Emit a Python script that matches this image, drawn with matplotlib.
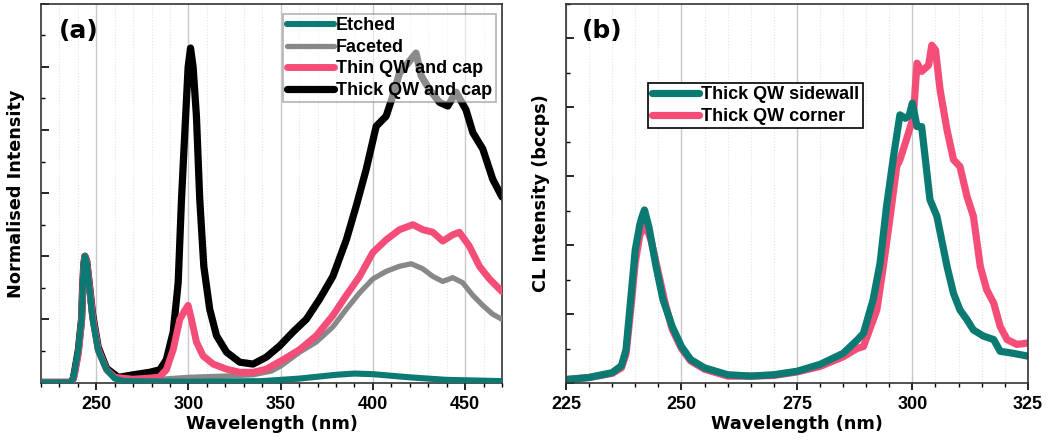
import matplotlib
matplotlib.use("Agg")
import matplotlib.pyplot as plt
from matplotlib.ticker import MultipleLocator, NullFormatter

TEAL = "#0b7a72"
PINK = "#f44d78"
GREY = "#888888"

# ---- panel (a): normalised spectra --------------------------------------
etched_wl = [220, 236, 237.5, 238.4, 240.2, 242, 242.6, 243.2, 243.8, 244.8, 246.2, 248, 251,
             255.6, 260, 265, 300, 340, 360, 380, 390, 400, 420, 440, 470]
etched_i = [0.0, 0.0, 0.03, 0.1, 0.25, 0.5, 0.75, 0.93, 1.0, 0.95, 0.75, 0.5, 0.25,
            0.1, 0.03, 0.01, 0.005, 0.01, 0.03, 0.06, 0.07, 0.065, 0.04, 0.02, 0.01]

faceted_wl = [220, 236, 237.5, 238.4, 240.2, 242, 242.6, 243.2, 243.8, 244.8, 246.2, 248, 251,
              255.6, 260, 280, 300, 320, 335, 345, 350, 360.3, 369.3, 378.3, 385.6, 392.8,
              400, 407.2, 414.4, 420.8, 427.1, 432.5, 437.9, 443.3, 448.7, 454.2, 459.6,
              465, 470]
faceted_i = [0.0, 0.0, 0.03, 0.1, 0.25, 0.5, 0.75, 0.93, 1.0, 0.95, 0.75, 0.5, 0.25,
             0.1, 0.03, 0.02, 0.04, 0.05, 0.06, 0.09, 0.13, 0.24, 0.32, 0.44, 0.58, 0.71,
             0.82, 0.88, 0.92, 0.94, 0.9, 0.84, 0.80, 0.83, 0.79, 0.69, 0.61,
             0.54, 0.50]

thin_wl = [220, 236.5, 238, 240.2, 242, 242.6, 243.2, 243.8, 244.8, 246.2, 248, 251, 255.6,
           260, 270, 284, 288, 291.7, 295.3, 298, 299.8, 301.6, 304.3, 307.9, 313.4, 320.6,
           327.8, 335, 342.2, 351.3, 360.3, 369.3, 378.3, 385.6, 392.8, 400, 407.2, 414.4,
           421.7, 427.1, 432.5, 437.9, 443.3, 446.9, 452.3, 457.8, 463.2, 470]
thin_i = [0.0, 0.0, 0.05, 0.22, 0.48, 0.73, 0.92, 1.0, 0.96, 0.77, 0.52, 0.26, 0.1,
          0.04, 0.025, 0.04, 0.1, 0.26, 0.5, 0.57, 0.61, 0.5, 0.32, 0.21, 0.145, 0.105,
          0.08, 0.08, 0.105, 0.18, 0.26, 0.37, 0.53, 0.69, 0.84, 1.03, 1.13, 1.21,
          1.25, 1.21, 1.19, 1.12, 1.17, 1.19, 1.08, 0.92, 0.82, 0.72]

thick_wl = [220, 236, 237.5, 238.4, 240.2, 242, 242.6, 243.2, 243.8, 244.8, 246.2, 248, 251,
            255.6, 262, 270, 279, 284.5, 288, 291.7, 294.4, 296.2, 298, 299.8, 301.1,
            302.5, 304.3, 306.1, 308.3, 311.5, 315.2, 320.6, 327.8, 335, 342.2, 349.5,
            356.7, 363.9, 371.1, 378.3, 385.6, 391, 396.4, 401.8, 407.2, 410.8, 414.4,
            419, 423.4, 426.2, 430.7, 436.1, 440.6, 445.1, 450.5, 454.2, 459.6, 465, 470]
thick_i = [0.0, 0.0, 0.03, 0.1, 0.25, 0.5, 0.75, 0.93, 1.0, 0.96, 0.78, 0.54, 0.28,
           0.11, 0.04, 0.06, 0.08, 0.1, 0.18, 0.40, 0.79, 1.45, 1.98, 2.5, 2.65,
           2.5, 2.11, 1.45, 0.92, 0.58, 0.37, 0.24, 0.16, 0.145, 0.2, 0.29,
           0.40, 0.5, 0.66, 0.84, 1.13, 1.40, 1.69, 2.03, 2.11, 2.27, 2.45,
           2.53, 2.61, 2.43, 2.32, 2.22, 2.19, 2.30, 2.16, 1.98, 1.85, 1.61, 1.47]

# ---- panel (b): CL spectra (arbitrary units) ----------------------------
side_wl = [225, 230, 235, 237, 238, 239, 240, 241, 241.5, 242, 243, 244.5, 246, 248, 250, 252,
           255, 260, 265, 270, 275, 280, 285, 288, 289.4, 291.5, 293, 294.4, 295.9,
           297.3, 298.5, 299.3, 300, 301, 302, 303.8, 305.3, 307.5, 308.9, 310.3,
           311.8, 313.2, 315.4, 317.6, 319, 321.9, 325]
side_i = [0.05, 0.08, 0.15, 0.25, 0.48, 1.2, 1.93, 2.3, 2.42, 2.51, 2.25, 1.69, 1.21, 0.82, 0.53,
          0.34, 0.22, 0.12, 0.1, 0.12, 0.17, 0.27, 0.43, 0.62, 0.72, 1.21, 1.74, 2.56, 3.28,
          3.89, 3.84, 3.88, 4.06, 3.72, 3.72, 2.66, 2.42, 1.69, 1.30, 1.06,
          0.92, 0.77, 0.68, 0.63, 0.46, 0.43, 0.39]

corner_wl = [225, 230, 235, 237, 238, 239, 240, 241, 242, 242.5, 243.5, 245, 246.5, 248, 250,
             252, 255, 260, 265, 270, 275, 280, 285, 288, 289.4, 292.3, 293.7, 295.2,
             296.6, 297.3, 298.7, 300.2, 301, 302, 303.5, 304.2, 305, 306, 307.5,
             308.9, 310.3, 311.8, 313.2, 314.7, 316.1, 317.6, 319, 320.5, 322.6, 325]
corner_i = [0.05, 0.08, 0.14, 0.22, 0.42, 1.05, 1.75, 2.15, 2.27, 2.25, 2.05, 1.6, 1.15, 0.78, 0.5,
            0.32, 0.2, 0.1, 0.1, 0.11, 0.16, 0.24, 0.38, 0.5, 0.53, 1.06, 1.69, 2.42,
            3.14, 3.24, 3.53, 3.86, 4.64, 4.52, 4.61, 4.9, 4.83, 4.25, 3.67,
            3.24, 3.14, 2.71, 2.42, 1.69, 1.35, 1.16, 0.82, 0.63, 0.56, 0.58]

label_font = {"family": "DejaVu Sans", "weight": "bold", "size": 12.7}
tick_family = "Liberation Sans"
legend_prop = {"family": tick_family, "weight": "bold", "size": 13}

fig = plt.figure(figsize=(10.51, 4.45), dpi=100)
ax_a = fig.add_axes([0.039, 0.1393, 0.4386, 0.852])
ax_b = fig.add_axes([0.5385, 0.1393, 0.4395, 0.852])


def style_axes(ax, major, minor, ymajor):
    ax.xaxis.set_major_locator(MultipleLocator(major))
    ax.xaxis.set_minor_locator(MultipleLocator(minor))
    ax.yaxis.set_major_locator(MultipleLocator(ymajor))
    ax.yaxis.set_minor_locator(MultipleLocator(ymajor / 2))
    ax.yaxis.set_major_formatter(NullFormatter())
    ax.tick_params(axis="x", which="major", direction="out", length=5, width=1.2,
                   top=False, pad=4)
    ax.tick_params(axis="x", which="minor", direction="out", length=3, width=1, top=False)
    ax.tick_params(axis="y", which="major", direction="in", length=6, width=1.2, right=False)
    ax.tick_params(axis="y", which="minor", direction="in", length=3, width=1, right=False)
    for lab in ax.get_xticklabels():
        lab.set_fontfamily(tick_family)
        lab.set_fontweight("bold")
        lab.set_fontsize(13)
    ax.grid(True, axis="x", which="major", color="#c8c8c8", lw=1.0)
    ax.grid(True, axis="x", which="minor", color="#e4e4e4", lw=0.8, ls=":")
    ax.set_axisbelow(True)
    for sp in ax.spines.values():
        sp.set_linewidth(1.2)
        sp.set_color("#333333")
    ax.set_xlabel("Wavelength (nm)", fontdict=label_font, labelpad=2)


lw_kw = dict(solid_joinstyle="round", solid_capstyle="round")

ax_a.plot(thick_wl, thick_i, color="black", lw=5.2, label="Thick QW and cap", zorder=2, **lw_kw)
ax_a.plot(faceted_wl, faceted_i, color=GREY, lw=3.8, label="Faceted", zorder=3, **lw_kw)
ax_a.plot(thin_wl, thin_i, color=PINK, lw=5.0, label="Thin QW and cap", zorder=4, **lw_kw)
ax_a.plot(etched_wl, etched_i, color=TEAL, lw=4.4, label="Etched", zorder=5, **lw_kw)
ax_a.set_xlim(220, 470)
ax_a.set_ylim(-0.005, 3.0)
style_axes(ax_a, 50, 10, 0.5)
ax_a.set_ylabel("Normalised Intensity", fontdict=label_font, labelpad=8)
ax_a.text(0.038, 0.96, "(a)", transform=ax_a.transAxes, ha="left", va="top",
          fontsize=18, fontweight="bold", family="DejaVu Sans")
handles, labels = ax_a.get_legend_handles_labels()
order = [3, 1, 2, 0]
leg_a = ax_a.legend([handles[i] for i in order], [labels[i] for i in order],
                    loc="upper right", bbox_to_anchor=(0.987, 0.974), frameon=True,
                    fancybox=False, framealpha=0.55, edgecolor="#777777",
                    prop=legend_prop, handlelength=2.6, handletextpad=0.15,
                    labelspacing=0.25, borderpad=0.2, borderaxespad=0.0)
leg_a.set_zorder(10)
leg_a.get_frame().set_linewidth(1.2)

ax_b.plot(corner_wl, corner_i, color=PINK, lw=5.2, label="Thick QW corner", **lw_kw)
ax_b.plot(side_wl, side_i, color=TEAL, lw=5.2, label="Thick QW sidewall", **lw_kw)
ax_b.set_xlim(225, 325)
ax_b.set_ylim(0, 5.5)
style_axes(ax_b, 25, 5, 1.0)
ax_b.set_ylabel("CL Intensity (bccps)", fontdict=label_font, labelpad=8)
ax_b.text(0.035, 0.96, "(b)", transform=ax_b.transAxes, ha="left", va="top",
          fontsize=18, fontweight="bold", family="DejaVu Sans")
hb, lb = ax_b.get_legend_handles_labels()
leg_b = ax_b.legend(hb[::-1], lb[::-1], loc="upper left", bbox_to_anchor=(0.178, 0.792),
                    frameon=True, fancybox=False, framealpha=1.0, edgecolor="black",
                    prop=legend_prop, handlelength=2.6, handletextpad=0.15,
                    labelspacing=0.25, borderpad=0.2, borderaxespad=0.0)
leg_b.get_frame().set_linewidth(1.2)

fig.savefig("out.png", dpi=100)
